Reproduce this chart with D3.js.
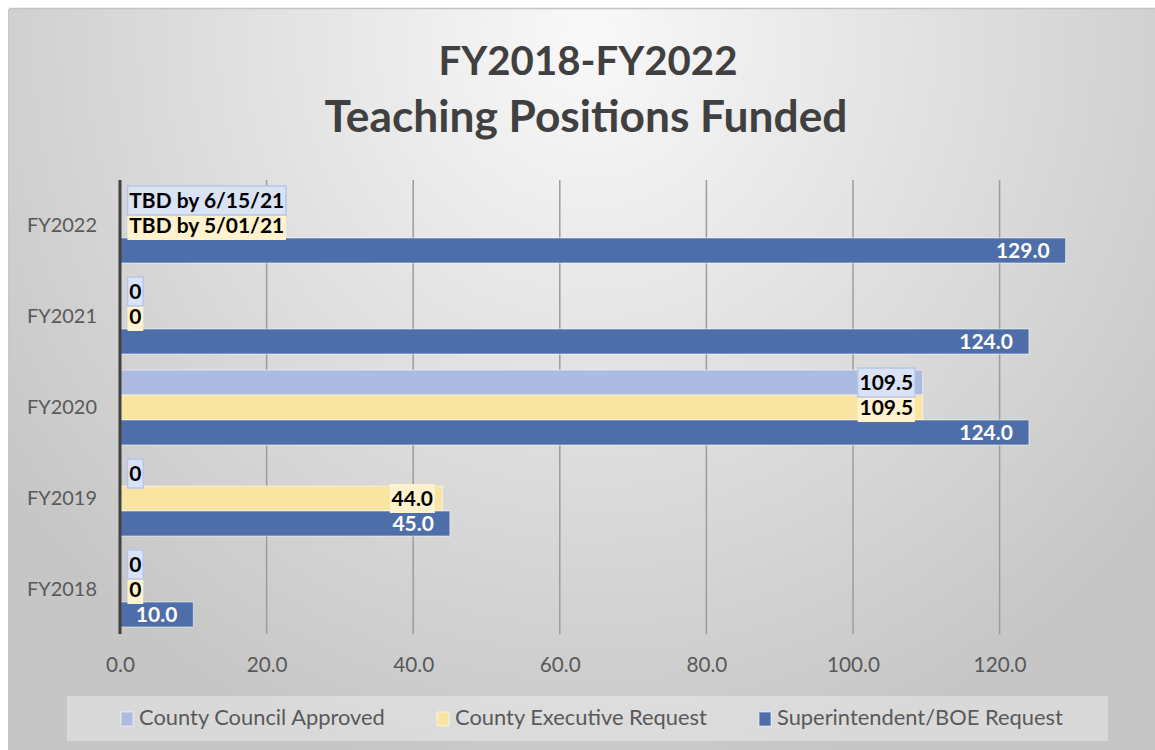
<!DOCTYPE html>
<html>
<head>
<meta charset="utf-8">
<script src="https://cdn.jsdelivr.net/npm/d3@7"></script>
<style>
  html, body { margin: 0; padding: 0; background: #ffffff; }
  svg { display: block; font-family: Lato, "Open Sans", sans-serif; }
</style>
</head>
<body>
<svg id="chart" width="1155" height="750"></svg>
<script>
// ---------------- data ----------------
const categories = ["FY2018", "FY2019", "FY2020", "FY2021", "FY2022"];
const seriesNames = ["County Council Approved", "County Executive Request", "Superintendent/BOE Request"];
const councilValues = [0, 0, 109.5, 0, 0];
const executiveValues = [0, 44.0, 109.5, 0, 0];
const superintendentValues = [10.0, 45.0, 124.0, 124.0, 129.0];
const councilNotes = [null, null, null, null, "TBD by 6/15/21"];
const executiveNotes = [null, null, null, null, "TBD by 5/01/21"];
const xTicks = [0, 20, 40, 60, 80, 100, 120];
const xMax = 130;
const titleLines = ["FY2018-FY2022", "Teaching Positions Funded"];

// ---------------- styles ----------------
const colors = ["#aebbe0", "#fae4a2", "#4e6eaa"];
const W = 1155, H = 750;
const svg = d3.select("#chart");

// background gradient
const defs = svg.append("defs");
const grad = defs.append("radialGradient")
  .attr("id", "bg").attr("gradientUnits", "userSpaceOnUse")
  .attr("cx", 590).attr("cy", 40).attr("r", 720)
  .attr("gradientTransform", "translate(590,40) scale(1,1.05) translate(-590,-40)");
grad.append("stop").attr("offset", 0).attr("stop-color", "#f9f9f9");
grad.append("stop").attr("offset", 1).attr("stop-color", "#c6c6c6");

svg.append("rect").attr("x", 9).attr("y", 9).attr("width", W - 9).attr("height", H - 9)
  .attr("fill", "url(#bg)");
svg.append("line").attr("x1", 9).attr("x2", W).attr("y1", 8.5).attr("y2", 8.5)
  .attr("stroke", "#c4c4c4").attr("stroke-width", 1.5);
svg.append("line").attr("x1", 8.5).attr("x2", 8.5).attr("y1", 9).attr("y2", H)
  .attr("stroke", "#c8c8c8").attr("stroke-width", 1);

// helper: fit text to target width
function fit(sel, target) {
  const len = sel.node().getComputedTextLength();
  const fs = parseFloat(sel.attr("font-size"));
  sel.attr("font-size", fs * target / len);
  return fs * target / len;
}

// ---------------- title ----------------
const t1 = svg.append("text").text(titleLines[0]).attr("x", 588).attr("y", 75)
  .attr("text-anchor", "middle").attr("font-weight", 700).attr("font-size", 40).attr("fill", "#404040");
fit(t1, 299);
const t2 = svg.append("text").text(titleLines[1]).attr("x", 586).attr("y", 132)
  .attr("text-anchor", "middle").attr("font-weight", 700).attr("font-size", 40).attr("fill", "#404040");
fit(t2, 523);

// ---------------- scales ----------------
const x = d3.scaleLinear().domain([0, xMax]).range([120, 120 + xMax * 7.33]);
const yTop = 180, yBot = 635;
const y = d3.scaleBand().domain(categories.slice().reverse()).range([yTop, yBot])
  .paddingInner(0.176).paddingOuter(0.088);
const ySub = d3.scaleBand().domain(seriesNames).range([0, y.bandwidth()]);

// gridlines
const gridG = svg.append("g");
gridG.selectAll("line").data(xTicks.filter(d => d > 0)).join("line")
  .attr("x1", d => x(d)).attr("x2", d => x(d))
  .attr("y1", yTop).attr("y2", yBot - 1)
  .attr("stroke", "#9c9c9c").attr("stroke-width", 1.5);

// x axis tick labels
const xAxis = d3.axisBottom(x).tickValues(xTicks).tickFormat(d3.format(".1f")).tickSize(0).tickPadding(0);
const xAxisG = svg.append("g").attr("transform", `translate(0, 672)`).call(xAxis);
xAxisG.select(".domain").remove();
xAxisG.selectAll("text").attr("dy", 0).attr("fill", "#595959")
  .attr("font-family", "Lato, sans-serif").attr("font-size", 20);
{
  const last = xAxisG.selectAll("text").filter(d => d === 120);
  const fs = fit(last, 53);
  xAxisG.selectAll("text").attr("font-size", fs);
}

// category axis labels
const yAxis = d3.axisLeft(y).tickSize(0).tickPadding(0);
const yAxisG = svg.append("g").attr("transform", `translate(97,0)`).call(yAxis);
yAxisG.select(".domain").remove();
yAxisG.selectAll("text").attr("fill", "#595959").attr("dy", "0.35em")
  .attr("font-family", "Lato, sans-serif").attr("font-size", 20);
{
  const first = yAxisG.selectAll("text").filter(d => d === "FY2022");
  const fs = fit(first, 70);
  yAxisG.selectAll("text").attr("font-size", fs);
}

// ---------------- bars ----------------
const rows = categories.map((c, i) => ({
  cat: c,
  vals: [
    { s: seriesNames[0], v: councilValues[i], note: councilNotes[i], idx: 0 },
    { s: seriesNames[1], v: executiveValues[i], note: executiveNotes[i], idx: 1 },
    { s: seriesNames[2], v: superintendentValues[i], note: null, idx: 2 }
  ]
}));

const groups = svg.append("g").selectAll("g").data(rows).join("g")
  .attr("transform", d => `translate(0, ${y(d.cat)})`);

groups.selectAll("rect").data(d => d.vals.filter(v => v.v > 0)).join("rect")
  .attr("x", x(0))
  .attr("y", d => ySub(d.s))
  .attr("width", d => x(d.v) - x(0))
  .attr("height", ySub.bandwidth())
  .attr("fill", d => colors[d.idx])
  .attr("stroke", "rgba(255,255,255,0.55)").attr("stroke-width", 1);

// value axis line
svg.append("line").attr("x1", x(0)).attr("x2", x(0)).attr("y1", yTop).attr("y2", yBot - 1)
  .attr("stroke", "#404040").attr("stroke-width", 3);

// ---------------- data labels ----------------
const fmt = v => v === 0 ? "0" : d3.format(".1f")(v);
const labelFont = 20;
// determine label font size from the longest note
let labelFs;
{
  const tmp = svg.append("text").text(councilNotes[4]).attr("font-weight", 700).attr("font-size", labelFont);
  labelFs = fit(tmp, 155);
  tmp.remove();
}
const labelBoxFill = ["#dae3f3", "#fff2cc"];
const labelBoxStroke = ["#b4c7e7", "none"];

const labelLayer = svg.append("g");
// draw order: superintendent, executive, council (council on top)
[2, 1, 0].forEach(idx => {
  rows.forEach(r => {
    const d = r.vals[idx];
    const cy = y(r.cat) + ySub(d.s) + ySub.bandwidth() / 2;
    const txt = d.note ? d.note : fmt(d.v);
    const g = labelLayer.append("g");
    const t = g.append("text").text(txt)
      .attr("font-weight", 700).attr("font-size", labelFs)
      .attr("dy", "0.35em").attr("y", cy)
      .attr("fill", idx === 2 ? "#ffffff" : "#000000");
    const w = t.node().getComputedTextLength();
    let tx;
    if (idx === 2) {
      tx = x(d.v) - 16 - w;
    } else if (d.v > 0) {
      tx = x(d.v) - 9.5 - w;
    } else {
      tx = x(0) + 9.3;
    }
    t.attr("x", tx);
    if (idx !== 2) {
      g.insert("rect", "text")
        .attr("x", tx - 1.8).attr("y", cy - 14.5)
        .attr("width", w + 3.6).attr("height", 29)
        .attr("fill", labelBoxFill[idx])
        .attr("stroke", labelBoxStroke[idx]).attr("stroke-width", 1.5);
    }
  });
});

// ---------------- legend ----------------
svg.append("rect").attr("x", 67).attr("y", 696).attr("width", 1041).attr("height", 45)
  .attr("fill", "rgba(255,255,255,0.33)");
const legendX = [121, 437, 759];
const legendTextWidths = [246, 253, 288];
const lg = svg.append("g").selectAll("g").data(seriesNames).join("g");
lg.append("rect")
  .attr("x", (d, i) => legendX[i]).attr("y", 712).attr("width", 12).attr("height", 14)
  .attr("fill", (d, i) => colors[i]).attr("stroke", "rgba(255,255,255,0.6)").attr("stroke-width", 1);
const legTexts = lg.append("text").text(d => d)
  .attr("x", (d, i) => legendX[i] + 18).attr("y", 725)
  .attr("fill", "#595959").attr("font-size", 20);
{
  const fs = fit(legTexts.filter((d, i) => i === 0), legendTextWidths[0]);
  legTexts.attr("font-size", fs);
}
</script>
</body>
</html>
